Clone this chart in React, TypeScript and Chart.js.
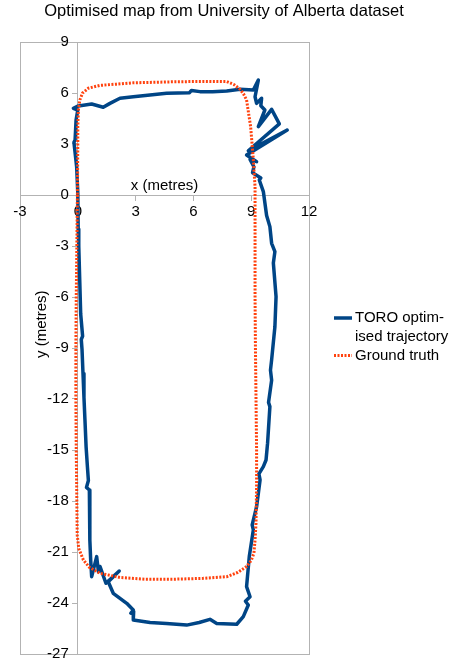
import React, { useEffect, useRef } from "react";
import { Chart, registerables } from "chart.js";

Chart.register(...registerables);

const TITLE = "Optimised map from University of Alberta dataset";
const X_TITLE = "x (metres)";
const Y_TITLE = "y (metres)";
const SERIES_NAMES = ["TORO optim-|ised trajectory", "Ground truth"];

const X_MIN = -3, X_MAX = 12, X_STEP = 3;
const Y_MIN = -27, Y_MAX = 9, Y_STEP = 3;

// TORO optimised trajectory
const toroX = [
  0.0, 0.02, 0.05, 0.1, 0.15, 0.25, 0.18, 0.22, 0.27, 0.32, 0.37, 0.43, 0.5, 0.55, 0.45, 0.6, 0.62, 0.63, 0.67,
  0.72, 0.98, 1.07, 1.15, 1.46, 2.15, 1.58, 1.84, 2.54, 2.88, 2.75, 2.9, 2.88, 3.75, 4.6, 5.65, 6.3, 6.86, 7.21,
  8.25, 8.59, 8.85, 8.7, 8.94, 8.76, 8.9, 9.11, 9.05, 9.28, 9.46, 9.4, 9.63, 9.77, 9.85, 9.97, 9.9, 10.06, 10.0,
  10.06, 10.23, 10.29, 10.15, 10.23, 10.06, 9.97, 9.8, 9.63, 9.42, 9.5, 9.07, 9.14, 8.94, 9.28, 8.76, 10.87, 8.85,
  10.46, 10.06, 9.37, 9.71, 9.5, 9.54, 9.28, 9.2, 9.37, 9.11, 8.42, 7.73, 7.0, 6.34, 5.9, 5.8, 5.2, 4.61, 3.5,
  2.88, 2.19, 1.67, 1.32, 0.72, 0.03, -0.23, 0.0, -0.09, -0.14, -0.2, -0.06, 0.0,
];
const toroY = [
  0.1, -2.0, -3.0, -5.0, -7.0, -8.3, -8.5, -9.1, -10.5, -11.9, -13.2, -14.8, -16.0, -16.8, -17.2, -17.35, -19.0, -20.3, -21.5,
  -22.45, -21.27, -22.16, -21.85, -22.84, -22.12, -22.75, -23.43, -24.02, -24.41, -24.6, -24.5, -25.0, -25.15, -25.2, -25.3, -25.15, -24.96, -25.2,
  -25.25, -24.8, -24.12, -23.9, -23.63, -23.04, -21.27, -19.7, -19.4, -18.34, -16.76, -16.4, -15.98, -15.59, -14.6, -12.45, -12.2, -10.9, -10.3,
  -9.7, -7.75, -5.98, -4.0, -3.33, -2.84, -1.86, -1.2, 0.2, 0.88, 1.0, 1.31, 1.66, 2.09, 1.96, 2.35, 3.82, 2.6,
  4.18, 5.04, 4.02, 5.0, 5.25, 5.69, 5.39, 5.78, 6.76, 6.18, 6.22, 6.12, 6.08, 6.08, 6.15, 6.02, 6.0, 5.98, 5.85,
  5.78, 5.69, 5.39, 5.16, 5.35, 5.24, 5.1, 5.0, 4.41, 3.24, 3.1, 1.66, 0.1,
];

// Ground truth
const truthX = [
  -0.02, -0.05, -0.08, -0.1, -0.1, -0.08, -0.05, -0.03, 0.05, 0.29, 0.6, 1.15, 2.19, 3.5, 5.0, 6.5, 7.73, 8.3, 8.76,
  9.0, 9.14, 9.2, 9.25, 9.28, 9.28, 9.25, 9.22, 9.2, 9.2, 9.2, 9.2, 9.1, 8.97, 8.76, 8.6, 8.42, 8.1, 7.73, 6.5, 5.0,
  4.0, 2.88, 2.0, 1.15, 0.55, 0.25, 0.11, 0.03, 0.0, 0.0, -0.02,
];
const truthY = [
  0, -3, -6, -9, -12, -15, -18, -20, -20.8, -21.47, -21.9, -22.25, -22.5, -22.6, -22.6, -22.55, -22.45, -22.2, -21.86,
  -21.5, -21.08, -20.3, -19.3, -17, -15, -12, -9, -6, -3, 0, 0.49, 2.25, 4.02, 5.59, 5.95, 6.22, 6.5, 6.67, 6.68, 6.66,
  6.63, 6.6, 6.52, 6.45, 6.28, 6.0, 5.6, 5.0, 4.0, 3.0, 0,
];

const BLUE = "#004586";
const RED = "#ff420e";
const GRID = "#b3b3b3";
const FONT = "'Liberation Sans', Arial, sans-serif";

const toPoints = (xs: number[], ys: number[]) => xs.map((x, i) => ({ x, y: ys[i] }));

const decorPlugin = {
  id: "decor",
  beforeDraw(chart: any) {
    const { ctx, chartArea } = chart;
    ctx.save();
    ctx.strokeStyle = GRID;
    ctx.lineWidth = 1;
    ctx.strokeRect(
      Math.round(chartArea.left) + 0.5,
      Math.round(chartArea.top) + 0.5,
      Math.round(chartArea.right - chartArea.left),
      Math.round(chartArea.bottom - chartArea.top)
    );
    ctx.restore();
  },
  beforeDatasetsDraw(chart: any) {
    // y tick labels, placed left of the tick marks on the y axis at x = 0
    const { ctx, scales } = chart;
    const ys = scales.y;
    const axisX = scales.x.getPixelForValue(0);
    ctx.save();
    ctx.fillStyle = "#000";
    ctx.font = `15px ${FONT}`;
    ctx.textAlign = "right";
    ctx.textBaseline = "middle";
    ys.ticks.forEach((t: any) => {
      const label = String(t.label ?? t.value);
      ctx.fillText(label, axisX - 9, ys.getPixelForValue(t.value));
    });
    ctx.restore();
  },
  afterDraw(chart: any) {
    const { ctx, chartArea, scales, width } = chart;
    const ys = scales.y;
    ctx.save();
    ctx.fillStyle = "#000";
    ctx.textBaseline = "middle";
    // chart title
    ctx.textAlign = "center";
    ctx.font = `16.5px ${FONT}`;
    ctx.fillText(TITLE, width / 2 - 2, chartArea.top - 31);

    ctx.font = `15px ${FONT}`;
    // x axis title above the x axis
    ctx.fillText(X_TITLE, (chartArea.left + chartArea.right) / 2, ys.getPixelForValue(0) - 9);
    // y axis title
    ctx.save();
    ctx.translate(chartArea.left + 21.5, ys.getPixelForValue(-7.6));
    ctx.rotate(-Math.PI / 2);
    ctx.fillText(Y_TITLE, 0, 0);
    ctx.restore();

    // legend
    const lx0 = chartArea.right + 25;
    const lx1 = lx0 + 18;
    const tx = lx1 + 3;
    const ly = [chartArea.top + 276, chartArea.top + 313.5];
    chart.data.datasets.forEach((ds: any, i: number) => {
      ctx.save();
      ctx.strokeStyle = ds.borderColor;
      ctx.lineWidth = ds.borderWidth;
      ctx.setLineDash(ds.borderDash || []);
      ctx.beginPath();
      ctx.moveTo(lx0, ly[i]);
      ctx.lineTo(lx1, ly[i]);
      ctx.stroke();
      ctx.restore();
      ctx.textAlign = "left";
      const lines = SERIES_NAMES[i].split("|");
      lines.forEach((t, j) => ctx.fillText(t, tx, ly[i] + j * 18.5));
    });
    ctx.restore();
  },
};

export default function App() {
  const ref = useRef<HTMLCanvasElement | null>(null);
  useEffect(() => {
    if (!ref.current) return;
    const chart = new Chart(ref.current, {
      type: "scatter",
      data: {
        datasets: [
          {
            label: SERIES_NAMES[0].replace("|", ""),
            data: toPoints(toroX, toroY),
            showLine: true,
            borderColor: BLUE,
            backgroundColor: BLUE,
            borderWidth: 3.5,
            borderJoinStyle: "round",
            borderCapStyle: "round",
            pointRadius: 0,
            tension: 0,
            order: 1,
          },
          {
            label: SERIES_NAMES[1],
            data: toPoints(truthX, truthY),
            showLine: true,
            borderColor: RED,
            backgroundColor: RED,
            borderWidth: 3,
            borderDash: [2, 1.5],
            borderCapStyle: "butt",
            pointRadius: 0,
            tension: 0,
            order: 0,
          },
        ],
      },
      options: {
        responsive: false,
        animation: false,
        devicePixelRatio: 1,
        layout: { padding: { left: 20, right: 143, top: 42, bottom: 9 } },
        plugins: {
          legend: { display: false },
          tooltip: { enabled: false },
          title: { display: false },
        },
        scales: {
          x: {
            type: "linear",
            position: { y: 0 },
            min: X_MIN,
            max: X_MAX,
            ticks: {
              stepSize: X_STEP,
              autoSkip: false,
              color: "#000",
              font: { family: FONT, size: 15 },
              padding: 3,
              maxRotation: 0,
            },
            grid: { drawOnChartArea: false, drawTicks: true, tickLength: 5, color: GRID },
            border: { display: true, color: GRID, width: 1 },
            afterFit: (s: any) => {
              s.paddingLeft = 0;
              s.paddingRight = 0;
            },
          },
          y: {
            type: "linear",
            position: { x: 0 },
            min: Y_MIN,
            max: Y_MAX,
            ticks: {
              stepSize: Y_STEP,
              autoSkip: false,
              display: false,
              color: "#000",
              font: { family: FONT, size: 15 },
              padding: 4,
            },
            grid: { drawOnChartArea: false, drawTicks: true, tickLength: 5, color: GRID },
            border: { display: true, color: GRID, width: 1 },
            afterFit: (s: any) => {
              s.paddingTop = 0;
              s.paddingBottom = 0;
            },
          },
        },
      },
      plugins: [decorPlugin],
    } as any);
    return () => chart.destroy();
  }, []);
  return (
    <div style={{ position: "fixed", left: 0, top: 0, width: 452, height: 663, background: "#fff" }}>
      <canvas ref={ref} width={452} height={663} style={{ display: "block", width: 452, height: 663 }} />
    </div>
  );
}
